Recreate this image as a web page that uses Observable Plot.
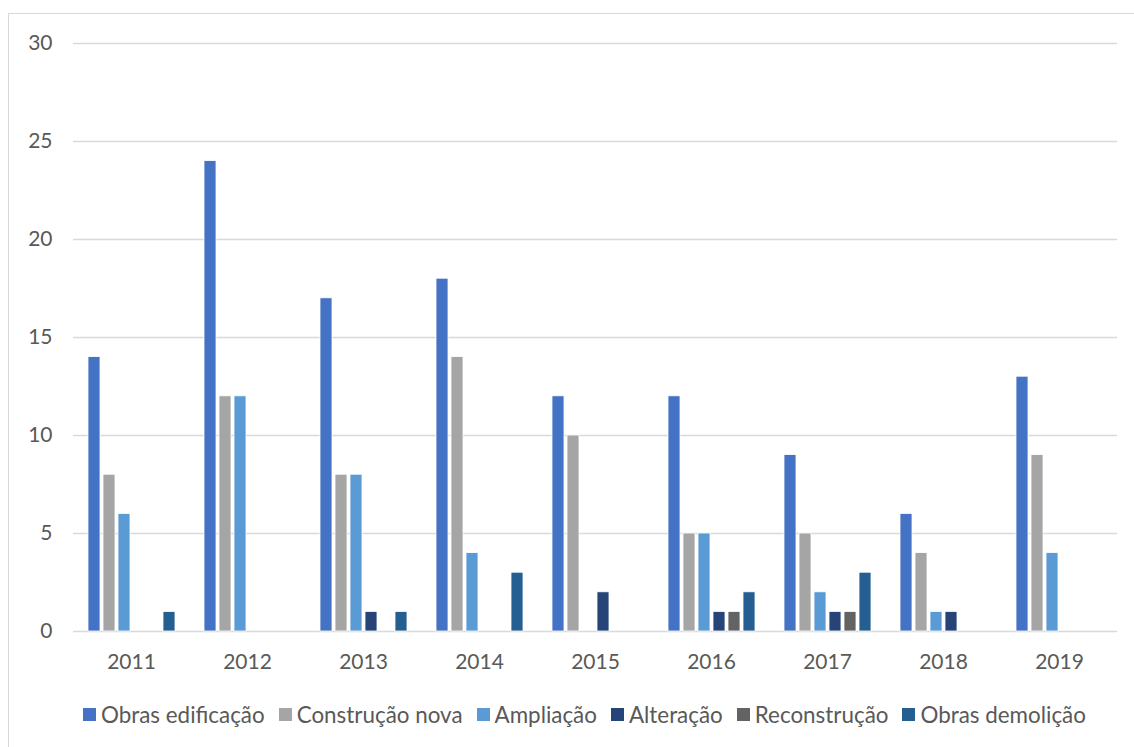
<!DOCTYPE html>
<html>
<head>
<meta charset="utf-8">
<script src="https://cdn.jsdelivr.net/npm/d3@7"></script>
<script src="https://cdn.jsdelivr.net/npm/@observablehq/plot@0.6"></script>
<style>
  body { margin: 0; width: 1134px; height: 747px; position: relative; overflow: hidden; background: #fff; font-family: Lato, "Open Sans", sans-serif; }
  #frame { position: absolute; left: 8px; top: 13px; width: 1200px; height: 800px; border: 1.5px solid #d9d9d9; box-sizing: border-box; }
  #chart { position: absolute; left: 0; top: 0; }
  #legend { position: absolute; top: 701px; left: 83px; display: flex; align-items: center; font-size: 22.4px; color: #595959; white-space: nowrap; }
  #legend .item { display: flex; align-items: center; margin-right: 14px; }
  #legend .sw { width: 13px; height: 13px; margin-right: 5px; }
</style>
</head>
<body>
<div id="frame"></div>
<div id="chart"></div>
<div id="legend"></div>
<script>
// Licenças de obras por ano e por tipo
const years = ["2011", "2012", "2013", "2014", "2015", "2016", "2017", "2018", "2019"];
const series = ["Obras edificação", "Construção nova", "Ampliação", "Alteração", "Reconstrução", "Obras demolição"];
const colors = ["#4472C4", "#A5A5A5", "#5B9BD5", "#264478", "#636363", "#255E91"];

const obrasEdificacao = [14, 24, 17, 18, 12, 12, 9, 6, 13];
const construcaoNova  = [8, 12, 8, 14, 10, 5, 5, 4, 9];
const ampliacao       = [6, 12, 8, 4, 0, 5, 2, 1, 4];
const alteracao       = [0, 0, 1, 0, 2, 1, 1, 1, 0];
const reconstrucao    = [0, 0, 0, 0, 0, 1, 1, 0, 0];
const obrasDemolicao  = [1, 0, 1, 3, 0, 2, 3, 0, 0];

const yTicks = [0, 5, 10, 15, 20, 25, 30];

const valuesBySeries = [obrasEdificacao, construcaoNova, ampliacao, alteracao, reconstrucao, obrasDemolicao];
const rows = [];
years.forEach((year, i) => {
  series.forEach((s, j) => rows.push({year, series: s, value: valuesBySeries[j][i]}));
});

const chart = Plot.plot({
  width: 1134,
  height: 680,
  marginLeft: 72,
  marginRight: 17,
  marginTop: 43,
  marginBottom: 49,
  style: {fontFamily: "Lato, 'Open Sans', sans-serif", fontSize: "21px", color: "#595959", background: "transparent"},
  fx: {domain: years, padding: 0, label: null, tickSize: 0, tickPadding: 23},
  x: {domain: series, paddingInner: 0.23, paddingOuter: 0.835, axis: null},
  y: {domain: [0, 30], ticks: yTicks, tickSize: 0, tickPadding: 21, label: null},
  color: {domain: series, range: colors},
  marks: [
    Plot.ruleY(yTicks, {stroke: "#d9d9d9", strokeWidth: 1.3}),
    Plot.barY(rows, {
      fx: "year",
      x: "series",
      y: "value",
      fill: "series",
      stroke: "#fff",
      strokeWidth: 0.8,
      filter: d => d.value > 0
    })
  ]
});
document.getElementById("chart").appendChild(chart);

const legend = d3.select("#legend");
series.forEach((s, j) => {
  const item = legend.append("div").attr("class", "item");
  item.append("div").attr("class", "sw").style("background", colors[j]);
  item.append("span").text(s);
});
</script>
</body>
</html>
